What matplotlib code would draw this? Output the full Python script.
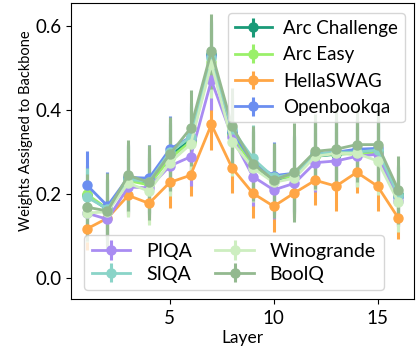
import matplotlib
matplotlib.use("Agg")
import matplotlib.pyplot as plt

plt.rcParams['font.family'] = ['Lato', 'DejaVu Sans']

layers = list(range(1, 17))

names = ["Arc Challenge", "Arc Easy", "HellaSWAG", "Openbookqa",
         "PIQA", "SIQA", "Winogrande", "BoolQ"]

arc_challenge = [0.198, 0.163, 0.238, 0.226, 0.290, 0.330, 0.535, 0.345, 0.270, 0.232, 0.245, 0.290, 0.295, 0.298, 0.300, 0.200]
arc_easy      = [0.200, 0.165, 0.232, 0.222, 0.285, 0.325, 0.515, 0.340, 0.268, 0.238, 0.242, 0.292, 0.297, 0.295, 0.298, 0.195]
hellaswag     = [0.117, 0.143, 0.197, 0.178, 0.228, 0.245, 0.366, 0.262, 0.202, 0.171, 0.203, 0.233, 0.219, 0.252, 0.219, 0.143]
openbookqa    = [0.222, 0.172, 0.240, 0.238, 0.307, 0.336, 0.530, 0.350, 0.275, 0.244, 0.250, 0.296, 0.300, 0.307, 0.309, 0.193]
piqa          = [0.155, 0.140, 0.217, 0.215, 0.267, 0.289, 0.471, 0.336, 0.242, 0.210, 0.226, 0.275, 0.279, 0.290, 0.295, 0.183]
siqa          = [0.193, 0.165, 0.235, 0.230, 0.300, 0.336, 0.525, 0.355, 0.285, 0.240, 0.248, 0.295, 0.300, 0.300, 0.305, 0.197]
winogrande    = [0.155, 0.158, 0.226, 0.207, 0.275, 0.319, 0.510, 0.324, 0.262, 0.228, 0.238, 0.290, 0.297, 0.297, 0.279, 0.181]
boolq         = [0.169, 0.160, 0.245, 0.228, 0.295, 0.357, 0.540, 0.362, 0.273, 0.233, 0.252, 0.302, 0.307, 0.318, 0.318, 0.210]

arc_challenge_err = [0.07, 0.07, 0.08, 0.07, 0.08, 0.08, 0.08, 0.08, 0.08, 0.08, 0.09, 0.08, 0.08, 0.08, 0.08, 0.07]
arc_easy_err      = [0.07, 0.07, 0.08, 0.07, 0.08, 0.08, 0.08, 0.08, 0.08, 0.08, 0.09, 0.08, 0.08, 0.08, 0.08, 0.07]
hellaswag_err     = [0.05, 0.05, 0.05, 0.05, 0.06, 0.05, 0.06, 0.06, 0.06, 0.06, 0.06, 0.06, 0.06, 0.05, 0.06, 0.05]
openbookqa_err    = [0.08, 0.08, 0.08, 0.08, 0.08, 0.08, 0.08, 0.08, 0.08, 0.08, 0.09, 0.08, 0.08, 0.08, 0.08, 0.07]
piqa_err          = [0.06, 0.06, 0.07, 0.07, 0.07, 0.07, 0.07, 0.07, 0.07, 0.07, 0.08, 0.07, 0.07, 0.07, 0.07, 0.06]
siqa_err          = [0.07, 0.07, 0.08, 0.08, 0.08, 0.08, 0.08, 0.08, 0.08, 0.08, 0.09, 0.08, 0.08, 0.08, 0.08, 0.07]
winogrande_err    = [0.07, 0.07, 0.08, 0.08, 0.08, 0.08, 0.08, 0.08, 0.08, 0.08, 0.09, 0.08, 0.08, 0.08, 0.08, 0.07]
boolq_err         = [0.08, 0.09, 0.085, 0.09, 0.088, 0.09, 0.09, 0.09, 0.09, 0.09, 0.118, 0.09, 0.09, 0.09, 0.09, 0.08]

colors = ["#1a9a78", "#9af06a", "#ffa645", "#6b8ef0",
          "#a98cf2", "#8ad4c8", "#cdeec0", "#93b98f"]

series = [arc_challenge, arc_easy, hellaswag, openbookqa, piqa, siqa, winogrande, boolq]
errs = [arc_challenge_err, arc_easy_err, hellaswag_err, openbookqa_err,
        piqa_err, siqa_err, winogrande_err, boolq_err]

fig = plt.figure(figsize=(4.16, 3.49), dpi=100)
ax = fig.add_axes([0.171, 0.143, 0.824, 0.848])

handles = []
for name, vals, err, c in zip(names, series, errs, colors):
    h = ax.errorbar(layers, vals, yerr=err, color=c, marker='o', markersize=6.5,
                    linewidth=2, elinewidth=2.2, label=name)
    handles.append(h)

ax.set_ylim(-0.05, 0.655)
ax.set_xlim(0.25, 16.75)
ax.set_yticks([0.0, 0.2, 0.4, 0.6])
ax.set_xticks([5, 10, 15])
ax.tick_params(labelsize=13.5)
ax.tick_params(axis='x', pad=4.5)
ax.set_xlabel("Layer", fontsize=12.5, labelpad=2)
ax.set_ylabel("Weights Assigned to Backbone", fontsize=10.5)
ax.yaxis.set_label_coords(-0.112, 0.568)

leg1 = ax.legend(handles[:4], names[:4], loc='upper right', fontsize=13.5,
                 handlelength=2.0, handletextpad=0.6, borderpad=0.35,
                 borderaxespad=0.3, labelspacing=0.5,
                 bbox_to_anchor=(0.99, 0.985))
ax.add_artist(leg1)
ax.legend(handles[4:], names[4:], loc='lower left', ncol=2, fontsize=14,
          handlelength=2.0, columnspacing=1.2, labelspacing=0.3,
          borderaxespad=0.3, bbox_to_anchor=(0.02, 0.01))

fig.savefig("out.png", dpi=100)
